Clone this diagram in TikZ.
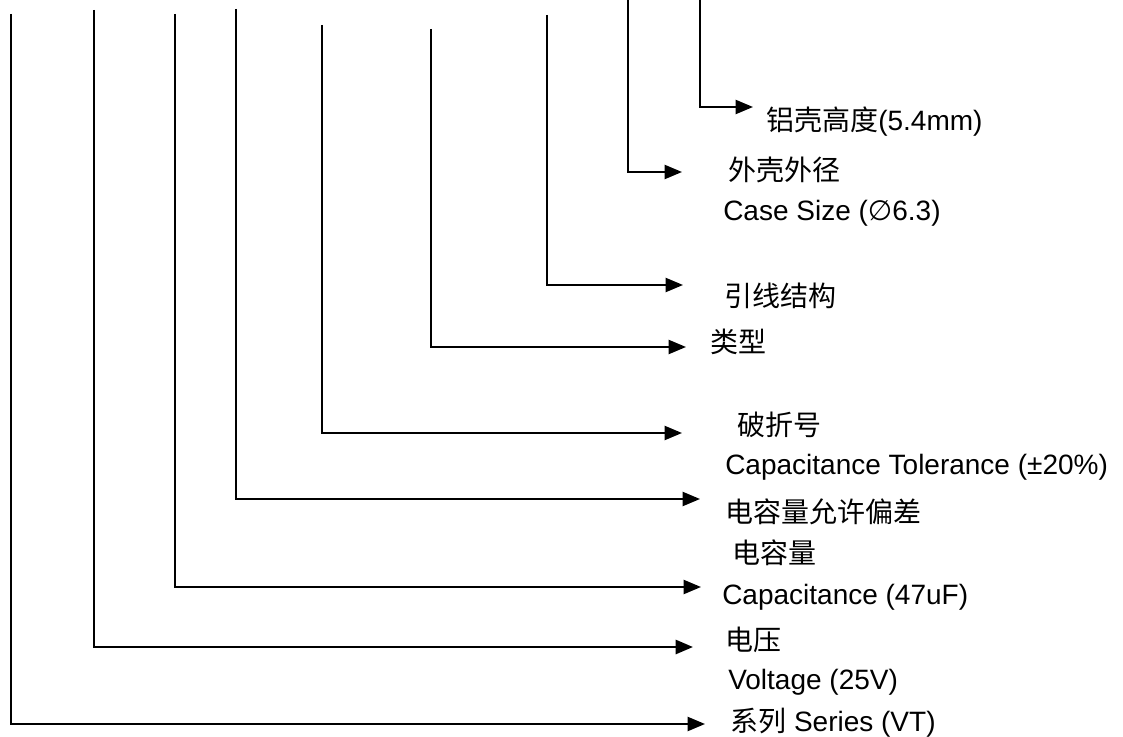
\documentclass[tikz,border=0pt]{standalone}
\usepackage{fontspec}
\setmainfont{Liberation Sans}
\newfontfamily\cjk{Noto Sans CJK SC}
\newfontfamily\dejavu{DejaVu Sans}
\usetikzlibrary{arrows.meta}
\begin{document}
\begin{tikzpicture}[x=0.75pt,y=-0.75pt,
  conn/.style={line width=1.6pt, -{Triangle[length=13pt,width=10.5pt]}},
  lbl/.style={anchor=west, inner sep=0pt, font=\fontsize{21}{25}\selectfont}]
\useasboundingbox (0,0) rectangle (1123,737);
% coordinates: tops and arrow tips
\coordinate (t1) at (11,14);   \coordinate (e1) at (705,724);
\coordinate (t2) at (94,10);   \coordinate (e2) at (693,647);
\coordinate (t3) at (175,14);  \coordinate (e3) at (701,587);
\coordinate (t4) at (236,9);   \coordinate (e4) at (700,499);
\coordinate (t5) at (322,25);  \coordinate (e5) at (682,433);
\coordinate (t6) at (431,29);  \coordinate (e6) at (686,347);
\coordinate (t7) at (547,15);  \coordinate (e7) at (683,285);
\coordinate (t8) at (628,0);   \coordinate (e8) at (682,172);
\coordinate (t9) at (700,0);   \coordinate (e9) at (753,107);
\draw[conn] (t1) |- (e1);
\draw[conn, line width=2pt] (t2) |- (e2);
\draw[conn] (t3) |- (e3);
\draw[conn] (t4) |- (e4);
\draw[conn] (t5) |- (e5);
\draw[conn] (t6) |- (e6);
\draw[conn] (t7) |- (e7);
\draw[conn] (t8) |- (e8);
\draw[conn] (t9) |- (e9);
% labels
\node[lbl] (l9) at (766,122) {{\cjk 铝壳高度}(5.4mm)};
\node[lbl] (l8a) at (728,170) {\cjk 外壳外径};
\node[lbl] (l8b) at (723,213) {Case Size ({\dejavu ∅}6.3)};
\node[lbl] (l7) at (724,296) {\cjk 引线结构};
\node[lbl] (l6) at (710,342) {\cjk 类型};
\node[lbl] (l5) at (737,425) {\cjk 破折号};
\node[lbl] (l4a) at (725,467) {Capacitance Tolerance (±20\%)};
\node[lbl] (l4b) at (725,512) {\cjk 电容量允许偏差};
\node[lbl] (l3a) at (732,553) {\cjk 电容量};
\node[lbl] (l3b) at (722,597) {Capacitance (47uF)};
\node[lbl] (l2a) at (725,640) {\cjk 电压};
\node[lbl] (l2b) at (728,682) {Voltage (25V)};
\node[lbl] (l1) at (730,723) {{\cjk 系列} Series (VT)};
\end{tikzpicture}
\end{document}
